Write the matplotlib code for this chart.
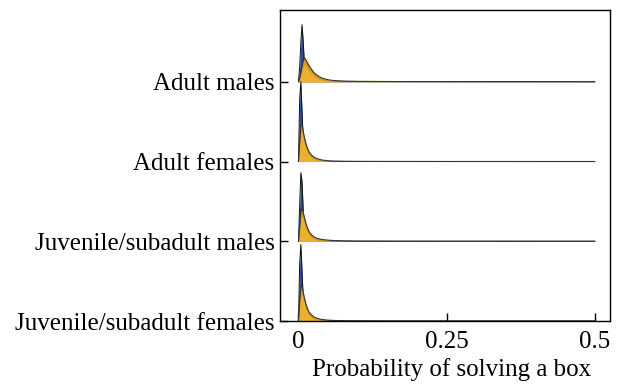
import matplotlib
matplotlib.use("Agg")
import matplotlib.pyplot as plt
import numpy as np

plt.rcParams['font.family'] = ['Liberation Serif', 'DejaVu Serif']

groups = ["Juvenile/subadult females", "Juvenile/subadult males", "Adult females", "Adult males"]

x = [0, 0.002, 0.004, 0.006, 0.008, 0.010, 0.012, 0.015, 0.018, 0.022, 0.026,
     0.030, 0.035, 0.040, 0.050, 0.060, 0.080, 0.100, 0.150, 0.250, 0.500]

# density heights (in ridge units) for each group, bottom to top
blue = [
    [0, 0.72, 0.96, 0.62, 0.28, 0.10, 0.03, 0, 0, 0, 0, 0, 0, 0, 0, 0, 0, 0, 0, 0, 0],
    [0, 0.45, 0.86, 0.75, 0.38, 0.14, 0.04, 0, 0, 0, 0, 0, 0, 0, 0, 0, 0, 0, 0, 0, 0],
    [0, 0.78, 1.00, 0.62, 0.28, 0.10, 0.03, 0, 0, 0, 0, 0, 0, 0, 0, 0, 0, 0, 0, 0, 0],
    [0, 0.18, 0.50, 0.715, 0.50, 0.22, 0.08, 0.02, 0, 0, 0, 0, 0, 0, 0, 0, 0, 0, 0, 0, 0],
]
orange = [
    [0, 0.25, 0.44, 0.43, 0.36, 0.29, 0.23, 0.16, 0.11, 0.075, 0.052, 0.038, 0.027, 0.019, 0.011, 0.007, 0.004, 0.002, 0.001, 0.0005, 0],
    [0, 0.18, 0.38, 0.41, 0.36, 0.30, 0.24, 0.17, 0.12, 0.08, 0.056, 0.040, 0.030, 0.022, 0.014, 0.009, 0.005, 0.003, 0.0015, 0.0005, 0],
    [0, 0.25, 0.46, 0.46, 0.38, 0.30, 0.24, 0.17, 0.12, 0.08, 0.055, 0.040, 0.028, 0.018, 0.010, 0.006, 0.003, 0.002, 0.001, 0.0005, 0],
    [0, 0.05, 0.12, 0.20, 0.27, 0.30, 0.28, 0.24, 0.20, 0.155, 0.115, 0.09, 0.065, 0.045, 0.025, 0.015, 0.008, 0.005, 0.003, 0.001, 0],
]
orange_inner = [
    [0, 0.19, 0.34, 0.33, 0.27, 0.21, 0.16, 0.11, 0.07, 0.045, 0.028, 0.018, 0.011, 0.006, 0.002, 0.001, 0, 0, 0, 0, 0],
    [0, 0.13, 0.29, 0.31, 0.27, 0.22, 0.17, 0.12, 0.08, 0.05, 0.032, 0.02, 0.012, 0.007, 0.003, 0.001, 0, 0, 0, 0, 0],
    [0, 0.19, 0.36, 0.36, 0.29, 0.22, 0.17, 0.12, 0.08, 0.05, 0.032, 0.02, 0.012, 0.006, 0.002, 0.001, 0, 0, 0, 0, 0],
    [0, 0.03, 0.08, 0.14, 0.19, 0.22, 0.20, 0.17, 0.135, 0.10, 0.07, 0.05, 0.034, 0.022, 0.01, 0.005, 0.001, 0, 0, 0, 0],
]

xticks = [0, 0.25, 0.5]
xticklabels = ["0", "0.25", "0.5"]

BLUE = "#2f4c9b"
ORANGE_D = "#d4981c"
ORANGE_L = "#ebb030"

fig = plt.figure(figsize=(6.17, 3.84), dpi=100)
ax = fig.add_axes([0.4538, 0.164, 0.535, 0.81])

xa = np.array(x)
for i in range(len(groups) - 1, -1, -1):
    base = i
    z = 10 + (len(groups) - i) * 5
    b = base + np.array(blue[i])
    o = base + np.array(orange[i])
    oi = base + np.array(orange_inner[i])
    ax.fill_between(xa, base, b, color=BLUE, zorder=z, lw=0)
    ax.plot(xa, b, color="#111111", lw=0.7, zorder=z + 0.1)
    ax.fill_between(xa, base, o, color=ORANGE_D, zorder=z + 1, lw=0)
    ax.fill_between(xa, base, oi, color=ORANGE_L, zorder=z + 1.5, lw=0)
    ax.plot(xa, o, color="#333333", lw=0.8, zorder=z + 2)

ax.set_xlim(-0.0312, 0.526)
ax.set_ylim(0, 3.9)
ax.set_yticks(range(len(groups)))
ax.set_yticklabels(groups, fontsize=18)
ax.set_xticks(xticks)
ax.set_xticklabels(xticklabels, fontsize=18)
ax.tick_params(direction="in", length=6, width=1, pad=7)
ax.tick_params(axis="y", pad=4)
ax.set_xlabel("Probability of solving a box", fontsize=18)
ax.xaxis.set_label_coords(0.52, -0.118)
for s in ax.spines.values():
    s.set_linewidth(1.0)
    s.set_zorder(50)

fig.savefig("out.png", dpi=100)
